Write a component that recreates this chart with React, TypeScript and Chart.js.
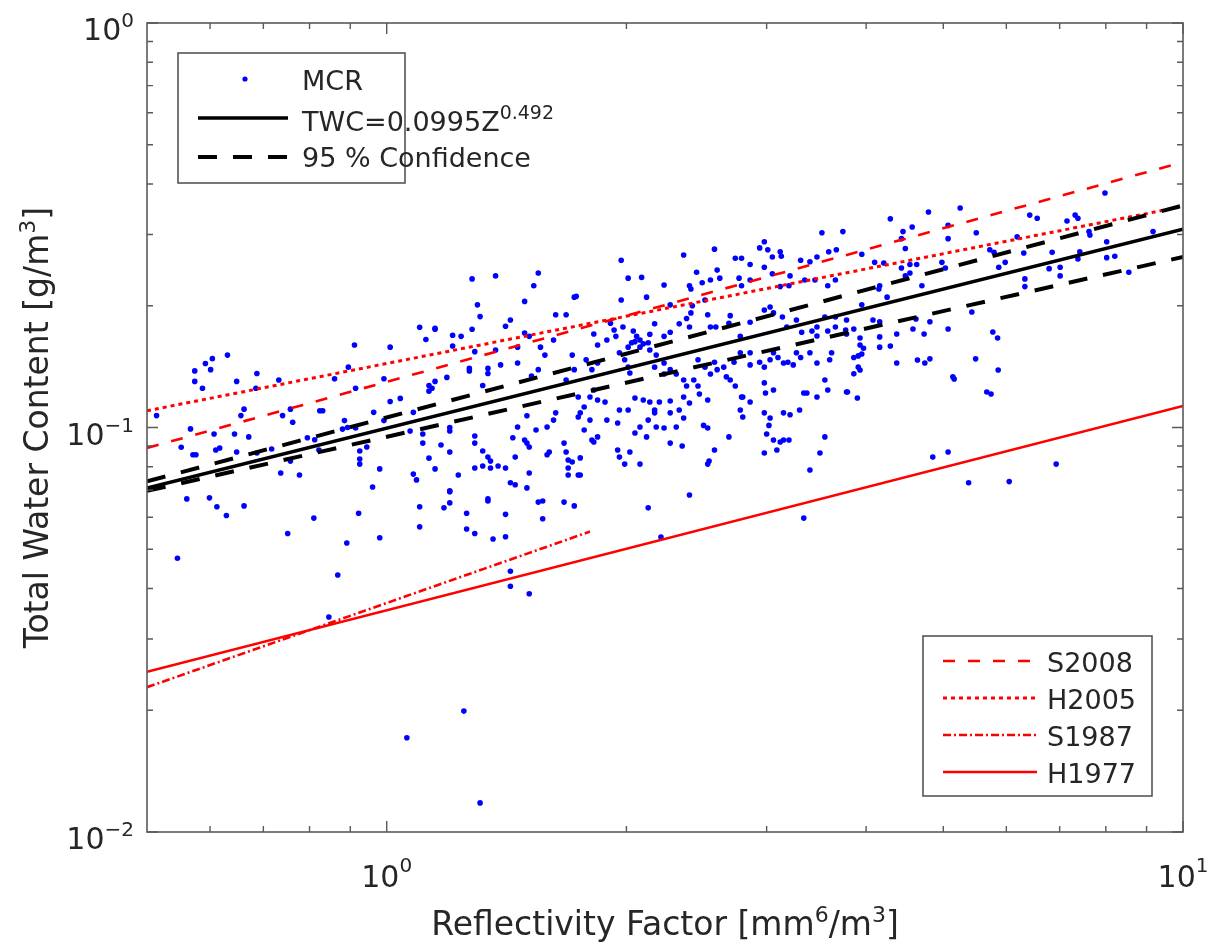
import React, { useEffect, useRef } from "react";
import { Chart, registerables } from "chart.js";

Chart.register(...registerables);

// ---------- axis ranges & ticks ----------
const xRange = [0.5, 10];
const yRange = [0.01, 1];
const xMajorTicks = [1, 10];
const xMajorExps = ["0", "1"];
const xMinorTicks = [0.6, 0.7, 0.8, 0.9, 2, 3, 4, 5, 6, 7, 8, 9];
const yMajorTicks = [0.01, 0.1, 1];
const yMajorExps = ["\u22122", "\u22121", "0"];
const yMinorTicks = [0.02, 0.03, 0.04, 0.05, 0.06, 0.07, 0.08, 0.09, 0.2, 0.3, 0.4, 0.5, 0.6, 0.7, 0.8, 0.9];

// ---------- MCR measurements [Z (mm^6/m^3), TWC (g/m^3)] ----------
const mcrPoints: [number, number][] = [
  [1.28,0.233],[1.37,0.237],[1.30,0.201],[1.31,0.188],[1.10,0.177],[1.15,0.176],[1.15,0.175],[1.12,0.165],
  [1.28,0.175],[1.24,0.168],[1.21,0.169],[1.21,0.159],[0.911,0.160],[1.01,0.158],[0.631,0.151],[0.604,0.148],
  [0.592,0.144],[0.574,0.138],[0.601,0.139],[0.574,0.130],[0.587,0.125],[0.648,0.130],[0.687,0.136],[0.685,0.125],
  [0.732,0.131],[0.895,0.141],[0.860,0.132],[0.914,0.125],[0.992,0.132],[1.27,0.140],[1.27,0.138],[1.29,0.154],
  [1.34,0.140],[1.34,0.136],[1.32,0.127],[1.19,0.133],[1.15,0.130],[1.13,0.127],[1.13,0.123],[1.14,0.125],
  [1.01,0.116],[1.04,0.118],[0.662,0.111],[0.656,0.107],[0.824,0.110],[0.831,0.110],[0.757,0.111],[0.740,0.107],
  [0.762,0.103],[0.514,0.107],[0.567,0.0992],[0.552,0.0894],[0.607,0.0964],[0.644,0.0964],[0.671,0.0948],[0.571,0.0856],
  [0.576,0.0856],[0.610,0.0880],[0.617,0.0890],[0.648,0.0870],[0.687,0.0865],[0.717,0.0885],[0.795,0.0943],[0.812,0.0933],
  [0.822,0.0880],[0.885,0.104],[0.880,0.0991],[0.893,0.100],[0.914,0.0997],[0.925,0.0875],[0.925,0.0836],[0.925,0.0812],
  [0.963,0.109],[0.992,0.104],[0.944,0.0895],[1.08,0.109],[1.07,0.0980],[1.11,0.0964],[1.11,0.0915],[1.17,0.0905],
  [1.20,0.0980],[1.20,0.100],[1.29,0.0953],[1.29,0.0915],[1.32,0.0875],[1.34,0.0845],[1.35,0.0826],[1.32,0.0803],
  [1.35,0.0794],[1.29,0.0794],[1.20,0.0870],[1.15,0.0790],[1.13,0.0840],[1.08,0.0767],[1.09,0.0742],[1.23,0.0763],
  [1.20,0.0697],[0.980,0.0790],[0.960,0.0713],[0.777,0.0763],[0.736,0.0772],[0.757,0.0826],[0.599,0.0670],[0.561,0.0666],
  [1.34,0.0666],[0.612,0.0637],[0.629,0.0606],[0.662,0.0640],[0.546,0.0475],[0.751,0.0547],[0.810,0.0597],[0.922,0.0614],
  [0.891,0.0518],[0.980,0.0534],[0.868,0.0432],[0.846,0.0340],[1.10,0.0637],[1.10,0.0568],[1.18,0.0633],[1.20,0.0651],
  [1.20,0.0694],[1.26,0.0614],[1.26,0.0561],[1.29,0.0547],[1.34,0.0658],[1.36,0.0530],[1.25,0.0199],[1.06,0.0171],
  [1.31,0.0118],
  [3.52,0.303],[3.74,0.305],[2.98,0.288],[2.94,0.278],[3.01,0.275],[3.05,0.264],[3.12,0.272],[3.13,0.265],
  [2.58,0.276],[2.36,0.267],[2.74,0.262],[2.79,0.262],[2.86,0.253],[2.98,0.249],[3.31,0.259],[3.40,0.257],
  [3.47,0.264],[3.59,0.272],[3.67,0.275],[1.97,0.259],[1.55,0.241],[2.01,0.234],[2.09,0.235],[2.45,0.242],
  [2.60,0.245],[2.62,0.234],[2.55,0.2315],[2.49,0.228],[2.23,0.225],[2.40,0.224],[2.41,0.220],[2.77,0.234],
  [2.86,0.2315],[2.79,0.224],[3.21,0.237],[3.05,0.240],[3.20,0.224],[3.12,0.223],[3.35,0.2315],[3.45,0.2315],
  [3.58,0.224],[3.66,0.2315],[1.53,0.224],[1.72,0.210],[1.73,0.211],[1.97,0.2066],[2.12,0.210],[2.27,0.201],
  [2.42,0.200],[2.51,0.2066],[1.49,0.205],[1.63,0.190],[1.68,0.190],[1.43,0.1844],[1.41,0.178],[1.82,0.1703],
  [1.84,0.160],[1.91,0.181],[1.93,0.1742],[1.94,0.168],[1.89,0.1646],[1.98,0.1772],[2.04,0.1732],[2.06,0.168],
  [2.08,0.1646],[2.10,0.161],[2.14,0.170],[2.13,0.162],[2.03,0.162],[2.01,0.158],[2.05,0.163],[2.08,0.158],
  [2.23,0.168],[2.27,0.172],[2.17,0.1804],[2.33,0.1804],[2.38,0.186],[2.41,0.192],[2.40,0.1772],[2.53,0.190],
  [2.55,0.1772],[2.59,0.1772],[2.69,0.181],[2.78,0.168],[2.86,0.182],[2.70,0.189],[2.98,0.1952],[3.03,0.1986],
  [3.06,0.192],[3.14,0.1876],[3.18,0.1772],[3.27,0.1844],[3.32,0.172],[3.42,0.1732],[3.47,0.1772],[3.55,0.1876],
  [3.66,0.1876],[1.49,0.1713],[1.51,0.168],[1.46,0.158],[1.56,0.158],[1.62,0.1646],[1.37,0.1555],[1.39,0.1428],
  [1.46,0.1444],[1.58,0.151],[1.55,0.139],[1.52,0.1341],[1.71,0.151],[1.72,0.139],[1.68,0.131],[1.78,0.147],
  [1.84,0.1444],[1.81,0.139],[1.96,0.153],[1.99,0.147],[2.01,0.141],[2.02,0.1364],[2.14,0.1555],[2.18,0.151],
  [2.23,0.1444],[2.17,0.141],[2.23,0.1356],[2.27,0.139],[2.31,0.1356],[2.36,0.1311],[2.38,0.1266],[2.46,0.147],
  [2.51,0.141],[2.55,0.1356],[2.60,0.139],[2.58,0.145],[2.65,0.141],[2.67,0.1334],[2.70,0.1311],[2.73,0.145],
  [2.78,0.153],[2.86,0.153],[2.86,0.1428],[2.94,0.145],[2.98,0.141],[3.03,0.147],[3.06,0.153],[3.10,0.149],
  [3.15,0.1444],[3.19,0.145],[3.24,0.1428],[3.27,0.153],[3.31,0.149],[3.40,0.153],[3.47,0.1444],[3.60,0.147],
  [3.62,0.153],[3.47,0.1684],[3.58,0.1732],[3.66,0.1772],[3.77,0.1742],[3.55,0.1311],[3.58,0.1238],[3.79,0.1224],
  [3.37,0.1217],[3.47,0.1190],[2.98,0.1289],[2.99,0.1217],[3.06,0.1238],[2.74,0.1266],[2.79,0.1190],[2.86,0.1156],
  [2.43,0.1311],[2.46,0.1266],[2.47,0.1210],[2.53,0.1169],[2.36,0.119],[2.40,0.1150],[2.33,0.1105],[2.27,0.1087],
  [2.27,0.1163],[2.20,0.1156],[2.17,0.1087],[2.13,0.1043],[2.08,0.1003],[2.05,0.1183],[2.10,0.1169],[2.14,0.1156],
  [2.17,0.1105],[2.23,0.0997],[2.18,0.1003],[1.74,0.119],[1.77,0.1124],[1.80,0.119],[1.82,0.1238],[1.84,0.1169],
  [1.88,0.1156],[1.89,0.1043],[1.95,0.1026],[1.96,0.1105],[2.01,0.1105],[1.75,0.1087],[1.74,0.1062],[1.80,0.1043],
  [1.77,0.0986],[1.81,0.0931],[1.84,0.0948],[1.63,0.1087],[1.62,0.1043],[1.59,0.1003],[1.54,0.0986],[1.50,0.1069],
  [1.46,0.1003],[1.44,0.0943],[1.49,0.0931],[1.50,0.0915],[1.51,0.0895],[1.60,0.0870],[1.59,0.0856],[1.67,0.0915],
  [1.69,0.0831],[1.69,0.0794],[1.75,0.0841],[1.75,0.0763],[1.95,0.088],[1.96,0.0845],[1.99,0.0812],[2.02,0.0870],
  [2.08,0.0812],[2.05,0.0969],[2.12,0.0948],[2.27,0.0915],[2.35,0.0900],[2.31,0.1003],[2.36,0.1056],[2.50,0.1012],
  [2.53,0.0997],[2.58,0.088],[2.54,0.0826],[2.53,0.0812],[2.69,0.0948],[2.80,0.1062],[2.78,0.1105],[2.80,0.1190],
  [2.98,0.1087],[3.03,0.1056],[3.02,0.1012],[3.00,0.0964],[2.98,0.0865],[3.06,0.0931],[3.09,0.088],[3.15,0.0931],
  [3.20,0.0931],[3.15,0.1087],[3.21,0.1075],[3.30,0.1105],[3.34,0.1217],[3.55,0.0948],[3.50,0.0865],[3.40,0.0785],
  [1.43,0.0730],[1.45,0.0722],[1.51,0.0772],[1.50,0.0709],[1.41,0.0794],[1.69,0.0763],[1.74,0.0763],[2.40,0.0681],
  [1.45,0.0845],
  [7.98,0.380],[5.25,0.349],[4.79,0.341],[4.29,0.328],[6.42,0.335],[6.56,0.329],[7.15,0.324],[7.32,0.335],
  [7.38,0.329],[4.57,0.313],[4.45,0.305],[5.07,0.316],[5.07,0.293],[5.50,0.303],[4.43,0.293],[4.48,0.277],
  [4.43,0.248],[4.48,0.237],[3.95,0.268],[4.10,0.256],[4.21,0.255],[4.16,0.224],[4.15,0.220],[4.25,0.210],
  [4.54,0.253],[4.63,0.253],[4.54,0.241],[4.70,0.224],[4.98,0.256],[5.03,0.248],[5.72,0.275],[5.79,0.271],
  [5.98,0.256],[5.87,0.249],[6.19,0.296],[6.31,0.270],[6.33,0.233],[6.33,0.223],[6.85,0.271],[6.79,0.247],
  [7.01,0.249],[7.01,0.237],[7.42,0.272],[7.38,0.261],[7.64,0.299],[7.62,0.305],[8.02,0.288],[8.02,0.263],
  [8.21,0.265],[8.55,0.242],[9.17,0.305],[3.95,0.201],[3.78,0.1844],[3.78,0.1703],[3.86,0.1752],[3.93,0.1665],
  [4.08,0.1844],[4.16,0.1825],[4.16,0.1675],[4.16,0.158],[4.29,0.159],[4.37,0.1703],[4.58,0.1752],[4.62,0.1854],
  [4.73,0.1703],[4.81,0.1825],[3.86,0.149],[3.91,0.1503],[3.95,0.1520],[3.93,0.160],[3.97,0.157],[3.86,0.1357],
  [3.91,0.141],[3.93,0.1387],[3.78,0.1224],[3.90,0.1183],[4.37,0.1444],[4.64,0.1469],[4.74,0.1444],[4.81,0.1478],
  [5.07,0.1752],[5.43,0.193],[5.49,0.1478],[5.14,0.1334],[5.16,0.1318],[5.77,0.1722],[5.85,0.1665],[5.86,0.1387],
  [5.67,0.1224],[5.74,0.1210],[4.85,0.0845],[5.07,0.0870],[5.38,0.0730],[6.05,0.0735],[6.93,0.0812],
  [1.38,0.0803],[1.55,0.0654],[1.57,0.0658],[1.41,0.0610],[1.41,0.0537],[1.57,0.0595],[1.68,0.0870],[1.71,0.0822],
  [1.67,0.0654],[1.72,0.0640],[1.82,0.0921],[2.13,0.0633],[1.43,0.0441],[1.43,0.0405],[1.51,0.0388],[2.21,0.0536],
  [3.12,0.0921],[3.34,0.0597],
];

// ---------- relation lines (end points) ----------
const fitLine: [number, number][] = [[0.5, 0.0708], [10, 0.309]];
const confUpper: [number, number][] = [[0.5, 0.0736], [10, 0.354]];
const confLower: [number, number][] = [[0.5, 0.0697], [10, 0.264]];
const s2008Line: [number, number][] = [[0.5, 0.089], [10, 0.453]];
const h2005Line: [number, number][] = [[0.5, 0.110], [10, 0.352]];
const s1987Line: [number, number][] = [[0.5, 0.0228], [1.8, 0.0553]];
const h1977Line: [number, number][] = [[0.5, 0.0249], [10, 0.113]];

const FONT = '"DejaVu Sans"';
const TEXT = "#262626";
const FRAME = "#5a5a5a";
const RED = "#ff0000";
const BLUE = "#0000ff";

const DASH_BLACK = [19, 16];
const DASH_RED = [12, 13];
const DOT_RED = [4, 4];
const DASHDOT_RED = [8, 3, 2, 3];

type Part = { t: string; sup?: boolean };

function drawRich(ctx: CanvasRenderingContext2D, parts: Part[], x: number, y: number, size: number, supSize: number, rise: number, align: "left" | "center" | "right") {
  const widths = parts.map((p) => {
    ctx.font = `${p.sup ? supSize : size}px ${FONT}`;
    return ctx.measureText(p.t).width;
  });
  const total = widths.reduce((a, b) => a + b, 0);
  let cx = align === "center" ? x - total / 2 : align === "right" ? x - total : x;
  ctx.textAlign = "left";
  ctx.textBaseline = "alphabetic";
  parts.forEach((p, i) => {
    ctx.font = `${p.sup ? supSize : size}px ${FONT}`;
    ctx.fillText(p.t, cx, p.sup ? y - rise : y);
    cx += widths[i];
  });
}

function legendLine(ctx: CanvasRenderingContext2D, x0: number, x1: number, y: number, color: string, width: number, dash: number[]) {
  ctx.save();
  ctx.strokeStyle = color;
  ctx.lineWidth = width;
  ctx.setLineDash(dash);
  ctx.beginPath();
  ctx.moveTo(x0, y);
  ctx.lineTo(x1, y);
  ctx.stroke();
  ctx.restore();
}

const axesPlugin = {
  id: "matlabAxes",
  afterDraw(chart: any) {
    const ctx: CanvasRenderingContext2D = chart.ctx;
    const a = chart.chartArea;
    const xs = chart.scales.x;
    const ys = chart.scales.y;
    ctx.save();

    // frame
    ctx.strokeStyle = FRAME;
    ctx.lineWidth = 1.6;
    ctx.setLineDash([]);
    ctx.strokeRect(a.left, a.top, a.right - a.left, a.bottom - a.top);

    // ticks
    ctx.lineWidth = 1.4;
    const xTick = (v: number, len: number) => {
      const px = xs.getPixelForValue(v);
      ctx.beginPath();
      ctx.moveTo(px, a.bottom);
      ctx.lineTo(px, a.bottom - len);
      ctx.moveTo(px, a.top);
      ctx.lineTo(px, a.top + len);
      ctx.stroke();
    };
    const yTick = (v: number, len: number) => {
      const py = ys.getPixelForValue(v);
      ctx.beginPath();
      ctx.moveTo(a.left, py);
      ctx.lineTo(a.left + len, py);
      ctx.moveTo(a.right, py);
      ctx.lineTo(a.right - len, py);
      ctx.stroke();
    };
    xMinorTicks.forEach((v) => xTick(v, 6));
    xMajorTicks.forEach((v) => xTick(v, 11));
    yMinorTicks.forEach((v) => yTick(v, 6));
    yMajorTicks.forEach((v) => yTick(v, 11));

    // tick labels
    ctx.fillStyle = TEXT;
    xMajorTicks.forEach((v, i) => {
      const px = xs.getPixelForValue(v);
      drawRich(ctx, [{ t: "10" }, { t: xMajorExps[i], sup: true }], px, 887, 30, 20, 15, "center");
    });
    yMajorTicks.forEach((v, i) => {
      const py = ys.getPixelForValue(v);
      drawRich(ctx, [{ t: "10" }, { t: yMajorExps[i], sup: true }], 134, py + 17, 30, 20, 13, "right");
    });

    // axis titles
    drawRich(ctx, [{ t: "Reflectivity Factor [mm" }, { t: "6", sup: true }, { t: "/m" }, { t: "3", sup: true }, { t: "]" }],
      (a.left + a.right) / 2, 935, 33, 22, 13, "center");
    ctx.save();
    ctx.translate(48, (a.top + a.bottom) / 2);
    ctx.rotate(-Math.PI / 2);
    drawRich(ctx, [{ t: "Total Water Content [g/m" }, { t: "3", sup: true }, { t: "]" }], 0, 0, 33, 22, 13, "center");
    ctx.restore();

    // legend 1
    ctx.fillStyle = "#ffffff";
    ctx.fillRect(178, 53, 227, 130);
    ctx.strokeStyle = "#555555";
    ctx.lineWidth = 1.6;
    ctx.strokeRect(178, 53, 227, 130);
    ctx.fillStyle = BLUE;
    ctx.beginPath();
    ctx.arc(245, 79, 2.6, 0, Math.PI * 2);
    ctx.fill();
    legendLine(ctx, 198, 288, 118, "#000000", 3.5, []);
    legendLine(ctx, 198, 288, 157, "#000000", 4, DASH_BLACK);
    ctx.fillStyle = TEXT;
    drawRich(ctx, [{ t: "MCR" }], 302, 90, 27, 19, 11, "left");
    drawRich(ctx, [{ t: "TWC=0.0995Z" }, { t: "0.492", sup: true }], 302, 131, 27, 19, 12, "left");
    drawRich(ctx, [{ t: "95 % Confidence" }], 302, 167, 27, 19, 11, "left");

    // legend 2
    ctx.fillStyle = "#ffffff";
    ctx.fillRect(923, 636, 229, 160);
    ctx.strokeStyle = "#555555";
    ctx.lineWidth = 1.6;
    ctx.strokeRect(923, 636, 229, 160);
    legendLine(ctx, 943, 1037, 661, RED, 2.6, DASH_RED);
    legendLine(ctx, 943, 1037, 698, RED, 3, DOT_RED);
    legendLine(ctx, 943, 1037, 735, RED, 2.6, DASHDOT_RED);
    legendLine(ctx, 943, 1037, 772, RED, 2.6, []);
    ctx.fillStyle = TEXT;
    drawRich(ctx, [{ t: "S2008" }], 1047, 672, 27, 19, 11, "left");
    drawRich(ctx, [{ t: "H2005" }], 1047, 709, 27, 19, 11, "left");
    drawRich(ctx, [{ t: "S1987" }], 1047, 746, 27, 19, 11, "left");
    drawRich(ctx, [{ t: "H1977" }], 1047, 783, 27, 19, 11, "left");

    ctx.restore();
  },
};

const toXY = (arr: [number, number][]) => arr.map(([x, y]) => ({ x, y }));

function lineDs(label: string, pts: [number, number][], color: string, width: number, dash: number[], order: number) {
  return {
    type: "line" as const,
    label,
    data: toXY(pts),
    showLine: true,
    borderColor: color,
    borderWidth: width,
    borderDash: dash,
    borderCapStyle: "butt" as const,
    pointRadius: 0,
    fill: false,
    tension: 0,
    order,
  };
}

export default function App() {
  const ref = useRef<HTMLCanvasElement | null>(null);
  useEffect(() => {
    if (!ref.current) return;
    const chart = new Chart(ref.current, {
      type: "scatter",
      data: {
        datasets: [
          {
            label: "MCR",
            data: toXY(mcrPoints),
            pointRadius: 2.8,
            pointBackgroundColor: BLUE,
            pointBorderWidth: 0,
            showLine: false,
            order: 10,
          } as any,
          lineDs("TWC fit", fitLine, "#000000", 3.5, [], 2),
          lineDs("95% upper", confUpper, "#000000", 4, DASH_BLACK, 3),
          lineDs("95% lower", confLower, "#000000", 4, DASH_BLACK, 3),
          lineDs("S2008", s2008Line, RED, 2.6, DASH_RED, 4),
          lineDs("H2005", h2005Line, RED, 3, DOT_RED, 4),
          lineDs("S1987", s1987Line, RED, 2.6, DASHDOT_RED, 4),
          lineDs("H1977", h1977Line, RED, 2.6, [], 4),
        ],
      },
      options: {
        animation: false,
        responsive: false,
        maintainAspectRatio: false,
        events: [],
        layout: { padding: { left: 147, right: 38, top: 23, bottom: 115 } },
        scales: {
          x: { type: "logarithmic", min: xRange[0], max: xRange[1], display: false },
          y: { type: "logarithmic", min: yRange[0], max: yRange[1], display: false },
        },
        plugins: { legend: { display: false }, tooltip: { enabled: false }, title: { display: false } },
      },
      plugins: [axesPlugin],
    });
    return () => chart.destroy();
  }, []);
  return (
    <div style={{ position: "absolute", left: 0, top: 0, width: 1221, height: 947, background: "#ffffff" }}>
      <canvas ref={ref} width={1221} height={947} style={{ display: "block", width: 1221, height: 947 }} />
    </div>
  );
}
